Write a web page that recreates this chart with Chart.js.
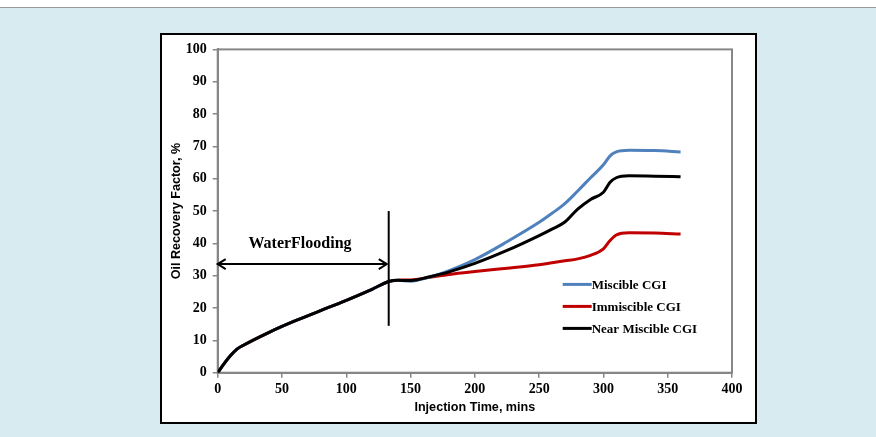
<!DOCTYPE html>
<html>
<head>
<meta charset="utf-8">
<script src="https://cdn.jsdelivr.net/npm/chart.js@4.4.0/dist/chart.umd.min.js"></script>
<style>
  html, body { margin: 0; padding: 0; }
  body { width: 876px; height: 437px; background: #d8ebf0; position: relative; overflow: hidden; }
  .topbar { position: absolute; left: 0; top: 0; width: 876px; height: 7px; background: #fff; border-bottom: 1px solid #9a9a9a; }
  .box { position: absolute; left: 160px; top: 33px; width: 593px; height: 387px; border: 2px solid #000; background: #fff; }
  canvas { display: block; }
</style>
</head>
<body>
<div class="topbar"></div>
<div class="box"><canvas id="recoveryChart" width="593" height="387"></canvas></div>
<script>
// 注入时间 (mins)
const injectionTime = [0, 5, 10, 15, 20, 40, 60, 80, 100, 120, 133, 140, 150, 165, 180, 200, 225, 250, 260, 270, 280, 290, 300, 305, 310, 320, 340, 360];

// 采收率 (%)
const miscibleCGI =     [0, 2.8, 5.3, 7.3, 8.5, 12.5, 16.0, 19.2, 22.4, 25.8, 28.2, 28.6, 28.3, 29.6, 31.6, 35.0, 40.5, 46.5, 49.3, 52.3, 56.2, 60.3, 64.3, 67.0, 68.3, 68.8, 68.7, 68.3];
const immiscibleCGI =   [0, 2.8, 5.3, 7.3, 8.5, 12.5, 16.0, 19.2, 22.4, 25.8, 28.2, 28.6, 28.7, 29.5, 30.4, 31.3, 32.3, 33.4, 34.0, 34.6, 35.2, 36.3, 38.3, 40.8, 42.6, 43.3, 43.2, 42.9];
const nearMiscibleCGI = [0, 2.8, 5.3, 7.3, 8.5, 12.5, 16.0, 19.2, 22.4, 25.8, 28.2, 28.6, 28.5, 29.7, 31.2, 33.8, 37.8, 42.4, 44.4, 46.6, 50.6, 53.6, 55.8, 58.8, 60.3, 60.9, 60.8, 60.6];

const seriesNames = ['Miscible CGI', 'Immiscible CGI', 'Near Miscible CGI'];
const seriesColors = ['#4f81bd', '#c00000', '#000000'];

// 坐标轴
const xTicks = [0, 50, 100, 150, 200, 250, 300, 350, 400];
const yTicks = [0, 10, 20, 30, 40, 50, 60, 70, 80, 90, 100];

// 注水阶段标注
const floodEnd = 133;
const floodMarkerRange = [14.5, 50];
const floodArrow = [0, 131.5, 33.6];
const floodLabel = 'WaterFlooding';
const floodLabelAt = [64, 39.8];

const serif = '"Liberation Serif", "Times New Roman", serif';
const sans = '"Liberation Sans", Arial, sans-serif';
const axisGray = '#878787';

function toPoints(ys) {
  return injectionTime.map((t, i) => ({ x: t, y: ys[i] }));
}

// 绘图区边框、注水标注和图例
const overlayPlugin = {
  id: 'overlay',
  beforeDatasetsDraw(chart) {
    const { ctx, chartArea: a } = chart;
    ctx.save();
    ctx.strokeStyle = axisGray;
    ctx.lineWidth = 2;
    ctx.strokeRect(a.left, a.top, a.right - a.left, a.bottom - a.top);
    ctx.restore();
  },
  afterDatasetsDraw(chart) {
    const { ctx, chartArea: a, scales: { x, y } } = chart;
    ctx.save();
    ctx.strokeStyle = '#000';
    ctx.fillStyle = '#000';
    ctx.lineWidth = 2;

    // 竖线
    const vx = x.getPixelForValue(floodEnd);
    ctx.beginPath();
    ctx.moveTo(vx, y.getPixelForValue(floodMarkerRange[0]));
    ctx.lineTo(vx, y.getPixelForValue(floodMarkerRange[1]));
    ctx.stroke();

    // 双向箭头
    const x0 = x.getPixelForValue(floodArrow[0]);
    const x1 = x.getPixelForValue(floodArrow[1]);
    const ay = y.getPixelForValue(floodArrow[2]);
    ctx.beginPath();
    ctx.moveTo(x0, ay);
    ctx.lineTo(x1, ay);
    ctx.moveTo(x0 + 8, ay - 5);
    ctx.lineTo(x0, ay);
    ctx.lineTo(x0 + 8, ay + 5);
    ctx.moveTo(x1 - 8, ay - 5);
    ctx.lineTo(x1, ay);
    ctx.lineTo(x1 - 8, ay + 5);
    ctx.stroke();

    ctx.font = 'bold 16px ' + serif;
    ctx.textAlign = 'center';
    ctx.textBaseline = 'middle';
    ctx.fillText(floodLabel, x.getPixelForValue(floodLabelAt[0]), y.getPixelForValue(floodLabelAt[1]));

    // 图例
    const lx = a.left + 345;
    let ly = a.top + 235;
    ctx.font = 'bold 13px ' + serif;
    ctx.textAlign = 'left';
    seriesNames.forEach((name, i) => {
      ctx.strokeStyle = seriesColors[i];
      ctx.lineWidth = 3;
      ctx.beginPath();
      ctx.moveTo(lx, ly);
      ctx.lineTo(lx + 29, ly);
      ctx.stroke();
      ctx.fillStyle = '#000';
      ctx.fillText(name, lx + 29, ly + 1);
      ly += 22;
    });
    ctx.restore();
  }
};

const seriesData = [miscibleCGI, immiscibleCGI, nearMiscibleCGI];
const drawOrder = [1, 2, 0];

new Chart(document.getElementById('recoveryChart'), {
  type: 'scatter',
  data: {
    datasets: seriesNames.map((name, i) => ({
      label: name,
      data: toPoints(seriesData[i]),
      showLine: true,
      borderColor: seriesColors[i],
      backgroundColor: seriesColors[i],
      borderWidth: 3,
      pointRadius: 0,
      cubicInterpolationMode: 'monotone',
      order: drawOrder[i],
    }))
  },
  options: {
    responsive: false,
    animation: false,
    layout: { padding: { top: 13, right: 23, left: 0, bottom: 0 } },
    plugins: {
      legend: { display: false },
      tooltip: { enabled: false }
    },
    scales: {
      x: {
        type: 'linear',
        min: 0,
        max: 400,
        afterBuildTicks: s => { s.ticks = xTicks.map(v => ({ value: v })); },
        afterFit: s => { s.height = 49.3; },
        border: { color: axisGray, width: 2 },
        grid: { drawOnChartArea: false, drawTicks: true, tickLength: 5, color: axisGray, lineWidth: 1.5 },
        ticks: { color: '#000', padding: 3, maxRotation: 0, font: { family: serif, size: 14, weight: 'bold' } },
        title: {
          display: true,
          text: 'Injection Time, mins',
          color: '#000',
          padding: { top: 0, bottom: 7 },
          font: { family: sans, size: 12.6, weight: 'bold' }
        }
      },
      y: {
        type: 'linear',
        min: 0,
        max: 100,
        afterBuildTicks: s => { s.ticks = yTicks.map(v => ({ value: v })); },
        afterFit: s => { s.width = 55.7; },
        border: { color: axisGray, width: 2 },
        grid: { drawOnChartArea: false, drawTicks: true, tickLength: 5, color: axisGray, lineWidth: 1.5 },
        ticks: { color: '#000', padding: 6, font: { family: serif, size: 14, weight: 'bold' } },
        title: {
          display: true,
          text: 'Oil Recovery Factor, %',
          color: '#000',
          padding: { top: 7, bottom: 0 },
          font: { family: sans, size: 12.6, weight: 'bold' }
        }
      }
    }
  },
  plugins: [overlayPlugin]
});
</script>
</body>
</html>
